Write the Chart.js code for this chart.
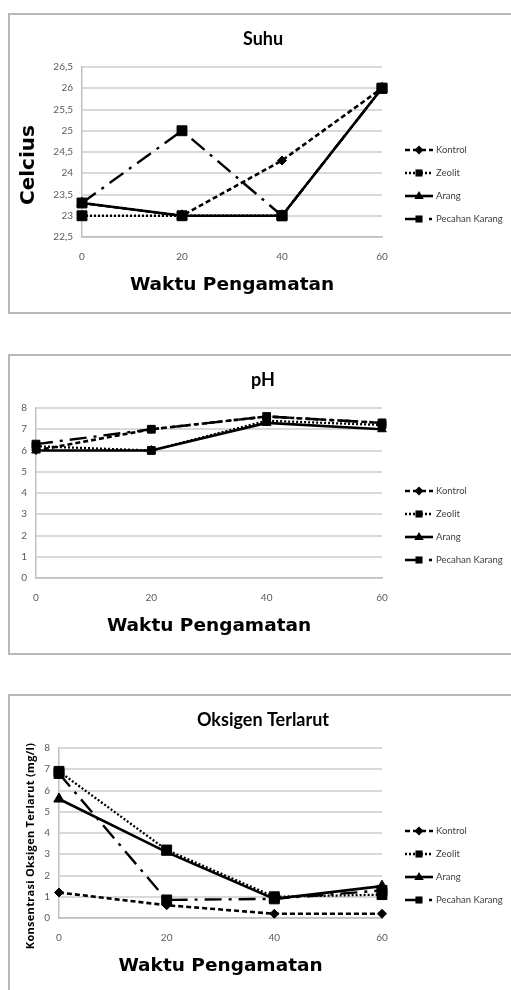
<!DOCTYPE html>
<html><head><meta charset="utf-8">
<script src="https://cdn.jsdelivr.net/npm/chart.js@4"></script>
<style>
html,body{margin:0;padding:0;background:#fff;overflow:hidden;width:511px;height:990px;}
.box{position:absolute;left:8px;width:520px;height:297px;border:2px solid #b8b8b8;background:#fff;}
.box canvas{position:absolute;left:0;top:0;}
</style></head><body>
<div class="box" style="top:13px"><canvas id="c1" width="506" height="297" style="width:506px;height:297px"></canvas></div>
<div class="box" style="top:354px"><canvas id="c2" width="506" height="297" style="width:506px;height:297px"></canvas></div>
<div class="box" style="top:694px"><canvas id="c3" width="506" height="297" style="width:506px;height:297px"></canvas></div>
<script>
// ---- data ----
const xLabels = ['0', '20', '40', '60'];
const seriesNames = ['Kontrol', 'Zeolit', 'Arang', 'Pecahan Karang'];

const suhuKontrol = [23.3, 23, 24.3, 26];
const suhuZeolit = [23, 23, 23, 26];
const suhuArang = [23.3, 23, 23, 26];
const suhuPecahan = [23.3, 25, 23, 26];
const suhuYTicks = [22.5, 23, 23.5, 24, 24.5, 25, 25.5, 26, 26.5];

const phKontrol = [6.0, 7.0, 7.6, 7.3];
const phZeolit = [6.2, 6.0, 7.4, 7.2];
const phArang = [6.0, 6.0, 7.3, 7.0];
const phPecahan = [6.3, 7.0, 7.6, 7.3];
const phYTicks = [0, 1, 2, 3, 4, 5, 6, 7, 8];

const oksKontrol = [1.2, 0.6, 0.2, 0.2];
const oksZeolit = [6.9, 3.2, 1.0, 1.1];
const oksArang = [5.6, 3.1, 0.9, 1.5];
const oksPecahan = [6.8, 0.85, 0.9, 1.3];
const oksYTicks = [0, 1, 2, 3, 4, 5, 6, 7, 8];

// ---- styles ----
const seriesStyles = [
  {dash: [5, 3], width: 2.6, point: 'rectRot', legendR: 4.5},
  {dash: [2, 2], width: 2.3, point: 'rect', legendR: 5},
  {dash: [], width: 2.6, point: 'triangle', legendR: 5},
  {dash: [17, 7, 3, 7], width: 2.4, point: 'rect', legendR: 5}
];

function marker(ctx, style, r, x, y) {
  ctx.beginPath();
  if (style === 'rect') {
    const s = r * Math.SQRT1_2;
    ctx.rect(x - s, y - s, 2 * s, 2 * s);
  } else if (style === 'rectRot') {
    ctx.moveTo(x - r, y); ctx.lineTo(x, y - r); ctx.lineTo(x + r, y); ctx.lineTo(x, y + r); ctx.closePath();
  } else {
    ctx.moveTo(x, y - r); ctx.lineTo(x + r * 0.95, y + r * 0.6); ctx.lineTo(x - r * 0.95, y + r * 0.6); ctx.closePath();
  }
  ctx.fill();
}

const extras = {
  id: 'extras',
  afterDraw(chart, args, o) {
    const ctx = chart.ctx, a = chart.chartArea;
    ctx.save();
    ctx.fillStyle = '#000';
    ctx.textAlign = 'center';
    ctx.textBaseline = 'middle';
    ctx.font = 'bold 18px Lato';
    ctx.fillText(o.title, o.titleX, o.titleY);
    if (o.yTitle) {
      ctx.save();
      ctx.translate(o.yTitleX, (a.top + a.bottom) / 2 + o.yTitleShift);
      ctx.rotate(-Math.PI / 2);
      ctx.font = o.yTitleFont;
      if (o.yTitleSpacing) ctx.letterSpacing = o.yTitleSpacing;
      ctx.fillText(o.yTitle, 0, 0);
      ctx.restore();
    }
    chart.data.datasets.forEach((ds, i) => {
      const st = seriesStyles[i];
      const y = o.legendY + i * 23;
      ctx.strokeStyle = '#000';
      ctx.lineWidth = st.width;
      ctx.setLineDash(st.dash);
      ctx.beginPath(); ctx.moveTo(o.legendX, y); ctx.lineTo(o.legendX + 28, y); ctx.stroke();
      ctx.setLineDash([]);
      ctx.fillStyle = '#000';
      marker(ctx, st.point, st.legendR, o.legendX + 14, y);
      ctx.font = '9.5px Lato';
      ctx.fillStyle = '#404040';
      ctx.textAlign = 'left';
      ctx.fillText(ds.label, o.legendX + 31, y);
    });
    ctx.restore();
  }
};

function makeChart(id, cfg) {
  const rad = p => p === 'rect' ? cfg.sq : (p === 'triangle' ? cfg.tri : cfg.dia);
  const datasets = cfg.series.map((vals, i) => ({
    label: seriesNames[i],
    data: vals,
    borderColor: '#000',
    backgroundColor: '#000',
    borderWidth: seriesStyles[i].width,
    borderDash: seriesStyles[i].dash,
    pointStyle: seriesStyles[i].point,
    pointRadius: rad(seriesStyles[i].point),
    pointHoverRadius: rad(seriesStyles[i].point),
    pointBackgroundColor: '#000',
    pointBorderColor: '#000',
    pointBorderWidth: 1,
    tension: 0,
    clip: false,
    fill: false
  }));
  const tickFont = {family: 'Lato', size: 10};
  return new Chart(document.getElementById(id), {
    type: 'line',
    data: {labels: xLabels, datasets},
    plugins: [extras],
    options: {
      responsive: false,
      animation: false,
      events: [],
      layout: {padding: {top: 52, right: 134, left: 0, bottom: 0}},
      plugins: {
        legend: {display: false},
        title: {display: false},
        tooltip: {enabled: false},
        extras: {
          title: cfg.title, titleX: 253, titleY: 24,
          yTitle: cfg.yTitle, yTitleFont: cfg.yTitleFont, yTitleSpacing: cfg.yTitleSpacing,
          yTitleX: cfg.yTitleX, yTitleShift: 13,
          legendX: 395, legendY: 135
        }
      },
      scales: {
        x: {
          type: 'category',
          offset: false,
          grid: {display: false, drawTicks: false},
          border: {display: true, color: '#bfbfbf', width: 1.5},
          ticks: {padding: 14, font: tickFont, color: '#595959', maxRotation: 0, autoSkip: false},
          title: {display: true, text: 'Waktu Pengamatan', color: '#000',
                  font: {family: 'DejaVu Sans', size: 18.5, weight: 'bold'}, padding: {top: 0, bottom: 16}},
          afterFit: s => { s.height = 75; }
        },
        y: {
          min: cfg.yTicks[0],
          max: cfg.yTicks[cfg.yTicks.length - 1],
          afterBuildTicks: s => { s.ticks = cfg.yTicks.map(v => ({value: v})); },
          grid: {color: '#d9d9d9', lineWidth: 2, drawTicks: false},
          border: {display: true, color: '#bfbfbf', width: 1.5},
          ticks: {padding: 9, font: tickFont, color: '#595959',
                  callback: v => String(v).replace('.', ',')},
          afterFit: s => { s.width = cfg.yWidth; }
        }
      }
    }
  });
}

makeChart('c1', {
  title: 'Suhu',
  series: [suhuKontrol, suhuZeolit, suhuArang, suhuPecahan],
  yTicks: suhuYTicks, yWidth: 72,
  yTitle: 'Celcius', yTitleFont: 'bold 20px "DejaVu Sans"', yTitleX: 19,
  sq: 7, tri: 6, dia: 4.5
});
makeChart('c2', {
  title: 'pH',
  series: [phKontrol, phZeolit, phArang, phPecahan],
  yTicks: phYTicks, yWidth: 26,
  yTitle: null,
  sq: 5.5, tri: 5, dia: 4
});
makeChart('c3', {
  title: 'Oksigen Terlarut',
  series: [oksKontrol, oksZeolit, oksArang, oksPecahan],
  yTicks: oksYTicks, yWidth: 49,
  yTitle: 'Konsentrasi Oksigen Terlarut (mg/l)', yTitleFont: 'bold 11px "Open Sans"', yTitleSpacing: '0.3px', yTitleX: 21,
  sq: 7, tri: 6, dia: 4.5
});
</script>
</body></html>
